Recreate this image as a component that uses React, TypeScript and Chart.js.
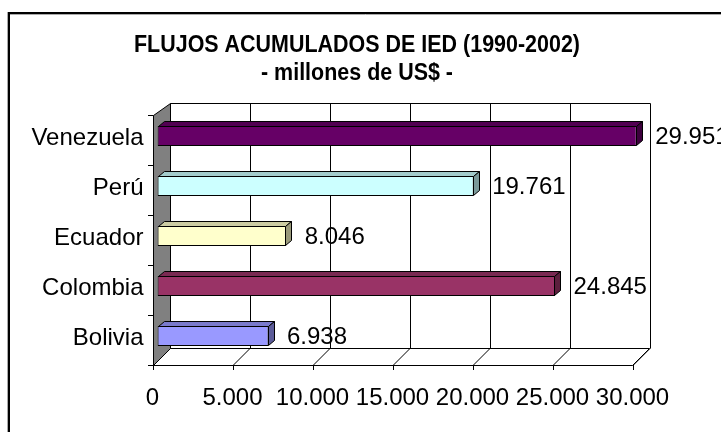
import React, { useEffect, useRef } from "react";
import { Chart, registerables } from "chart.js";

Chart.register(...registerables);

const TITLE_LINE_1 = "FLUJOS ACUMULADOS DE IED (1990-2002)";
const TITLE_LINE_2 = "- millones de US$ -";
const categories = ["Venezuela", "Perú", "Ecuador", "Colombia", "Bolivia"];
const values = [29951, 19761, 8046, 24845, 6938];
const frontColors = ["#660066", "#CCFFFF", "#FFFFCC", "#993366", "#9999FF"];
const topColors = ["#520052", "#A3CCCC", "#CCCCA3", "#7A2952", "#7A7ACC"];
const sideColors = ["#3D003D", "#7A9999", "#99997A", "#5C1F3D", "#5C5C99"];
const xTicks = [0, 5000, 10000, 15000, 20000, 25000, 30000];
const X_MIN = 0;
const X_MAX = 30000;

const FONT = "Arial, 'Liberation Sans', sans-serif";

// 3D geometry offsets relative to bar (chart area) plane
const FRONT_DX = -5;
const FRONT_DY = 4;
const BACK_DX = 12;
const BACK_DY_TOP = -8;
const BACK_DY_BOTTOM = -13;
const BAR_DX = 6;
const BAR_DY = -5;

function fmt(n: number): string {
  const s = Math.round(n).toString();
  return s.replace(/\B(?=(\d{3})+(?!\d))/g, ".");
}

const threeD = {
  id: "threeD",
  beforeDatasetsDraw(chart: any) {
    const { ctx, chartArea, scales } = chart;
    const xs = scales.x;
    const fTop = chartArea.top + FRONT_DY;
    const fBot = chartArea.bottom + FRONT_DY;
    const bTop = chartArea.top + BACK_DY_TOP;
    const bBot = chartArea.bottom + BACK_DY_BOTTOM;
    const xF = (v: number) => xs.getPixelForValue(v) + FRONT_DX;
    const xB = (v: number) => xs.getPixelForValue(v) + BACK_DX;
    ctx.save();
    // outer border
    ctx.strokeStyle = "#000";
    ctx.lineWidth = 2;
    ctx.strokeRect(9, 13, 800, 500);
    ctx.lineWidth = 1;
    ctx.strokeStyle = "#aaa";
    ctx.beginPath();
    ctx.moveTo(7.5, 12);
    ctx.lineTo(7.5, 432);
    ctx.moveTo(10, 14.5);
    ctx.lineTo(721, 14.5);
    ctx.stroke();

    // back wall
    ctx.fillStyle = "#fff";
    ctx.fillRect(xB(X_MIN), bTop, xB(X_MAX) - xB(X_MIN), bBot - bTop);
    ctx.strokeStyle = "#000";
    ctx.lineWidth = 1;
    ctx.beginPath();
    ctx.moveTo(Math.round(xB(X_MIN)) + 0.5, Math.round(bTop) + 0.5);
    ctx.lineTo(Math.round(xB(X_MAX)) + 0.5, Math.round(bTop) + 0.5);
    ctx.stroke();
    for (const v of xTicks) {
      const x = Math.round(xB(v)) + 0.5;
      ctx.beginPath();
      ctx.moveTo(x, Math.round(bTop) + 0.5);
      ctx.lineTo(x, Math.round(bBot) + 0.5);
      ctx.stroke();
    }
    // floor
    ctx.beginPath();
    ctx.moveTo(xF(X_MIN), fBot + 0.5);
    ctx.lineTo(xF(X_MAX), fBot + 0.5);
    ctx.lineTo(xB(X_MAX), bBot + 0.5);
    ctx.lineTo(xB(X_MIN), bBot + 0.5);
    ctx.closePath();
    ctx.fillStyle = "#fff";
    ctx.fill();
    ctx.stroke();
    for (const v of xTicks) {
      ctx.beginPath();
      ctx.moveTo(xF(v) + 0.5, fBot + 0.5);
      ctx.lineTo(xB(v) + 0.5, bBot + 0.5);
      ctx.stroke();
      ctx.beginPath();
      ctx.moveTo(Math.round(xF(v)) + 0.5, fBot);
      ctx.lineTo(Math.round(xF(v)) + 0.5, fBot + 5);
      ctx.stroke();
    }
    // left wall
    ctx.beginPath();
    ctx.moveTo(Math.round(xF(X_MIN)) + 0.5, fTop + 0.5);
    ctx.lineTo(Math.round(xB(X_MIN)) + 0.5, bTop + 0.5);
    ctx.lineTo(Math.round(xB(X_MIN)) + 0.5, bBot + 0.5);
    ctx.lineTo(Math.round(xF(X_MIN)) + 0.5, fBot + 0.5);
    ctx.closePath();
    ctx.fillStyle = "#808080";
    ctx.fill();
    ctx.stroke();
    const n = categories.length;
    const step = (fBot - fTop) / n;
    for (let i = 0; i <= n; i++) {
      const y = Math.round(fTop + i * step) + 0.5;
      ctx.beginPath();
      ctx.moveTo(Math.round(xF(X_MIN)) - 5, y);
      ctx.lineTo(Math.round(xF(X_MIN)) + 0.5, y);
      ctx.stroke();
    }
    ctx.restore();
  },
  afterDatasetsDraw(chart: any) {
    const { ctx, chartArea, scales } = chart;
    const xs = scales.x;
    const ys = scales.y;
    const meta = chart.getDatasetMeta(0);
    ctx.save();
    ctx.strokeStyle = "#000";
    ctx.lineWidth = 1;
    meta.data.forEach((bar: any, i: number) => {
      const { x, y, base, height } = bar;
      const top = Math.round(y - height / 2) + 0.5;
      const bot = Math.round(y + height / 2) - 0.5;
      const l = Math.round(base) + 0.5;
      const r = Math.round(x) - 0.5;
      ctx.beginPath();
      ctx.moveTo(l, top);
      ctx.lineTo(r, top);
      ctx.lineTo(r + BAR_DX, top + BAR_DY);
      ctx.lineTo(l + BAR_DX, top + BAR_DY);
      ctx.closePath();
      ctx.fillStyle = topColors[i];
      ctx.fill();
      ctx.stroke();
      ctx.beginPath();
      ctx.moveTo(r, top);
      ctx.lineTo(r + BAR_DX, top + BAR_DY);
      ctx.lineTo(r + BAR_DX, bot + BAR_DY);
      ctx.lineTo(r, bot);
      ctx.closePath();
      ctx.fillStyle = sideColors[i];
      ctx.fill();
      ctx.stroke();
      ctx.fillStyle = "#000";
      ctx.font = `24px ${FONT}`;
      ctx.textAlign = "left";
      ctx.textBaseline = "middle";
      ctx.fillText(fmt(values[i]), x + BAR_DX + 12.5, y + 1);
    });
    ctx.font = `24px ${FONT}`;
    ctx.textAlign = "right";
    ctx.textBaseline = "middle";
    ctx.fillStyle = "#000";
    categories.forEach((c, i) => {
      ctx.fillText(c, xs.getPixelForValue(X_MIN) + FRONT_DX - 9, ys.getPixelForValue(i) + 2);
    });
    ctx.textAlign = "center";
    xTicks.forEach((v) => {
      ctx.fillText(fmt(v), xs.getPixelForValue(v) + FRONT_DX, chartArea.bottom + 37);
    });
    // title (slightly condensed, as in the reference)
    ctx.font = `bold 23px ${FONT}`;
    const w1 = ctx.measureText(TITLE_LINE_1).width;
    const sx = 446 / w1;
    ctx.save();
    ctx.translate(357, 0);
    ctx.scale(sx, 1);
    ctx.fillText(TITLE_LINE_1, 0, 46);
    ctx.fillText(TITLE_LINE_2, 0, 74);
    ctx.restore();
    ctx.restore();
  },
};

export default function App() {
  const ref = useRef<HTMLCanvasElement | null>(null);
  useEffect(() => {
    if (!ref.current) return;
    const chart = new Chart(ref.current, {
      type: "bar",
      data: {
        labels: categories,
        datasets: [
          {
            data: values,
            backgroundColor: frontColors,
            borderColor: "#000",
            borderWidth: 1,
            borderSkipped: false,
            barPercentage: 0.4,
            categoryPercentage: 1,
          },
        ],
      },
      options: {
        indexAxis: "y",
        responsive: false,
        maintainAspectRatio: false,
        animation: false,
        layout: { padding: { left: 157.5, right: 83.5, top: 111, bottom: 71 } },
        scales: {
          x: { type: "linear", min: X_MIN, max: X_MAX, display: false },
          y: { type: "category", display: false },
        },
        plugins: { legend: { display: false }, tooltip: { enabled: false }, title: { display: false } },
      },
      plugins: [threeD],
    } as any);
    return () => chart.destroy();
  }, []);
  return (
    <div style={{ position: "fixed", left: 0, top: 0, width: 721, height: 432, background: "#fff" }}>
      <canvas ref={ref} width={721} height={432} style={{ display: "block", width: 721, height: 432 }} />
    </div>
  );
}
